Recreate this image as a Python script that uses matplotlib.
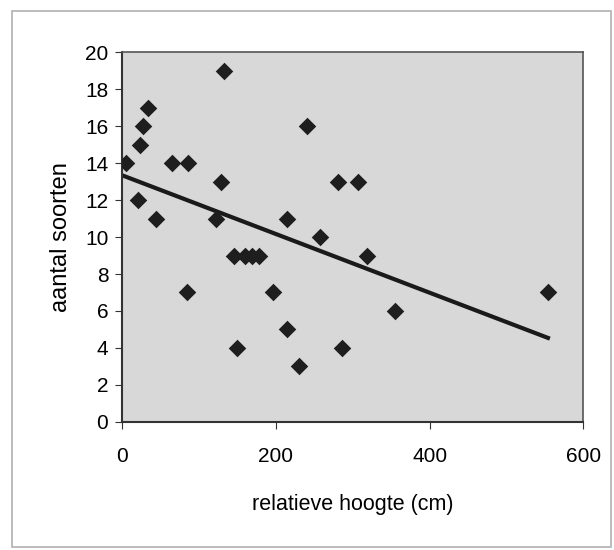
import numpy as np
import matplotlib.pyplot as plt
from matplotlib.patches import Rectangle

plt.rcParams['font.family'] = ['Liberation Sans', 'DejaVu Sans']

# relatieve hoogte (cm) vs aantal soorten
hoogte = [5, 20, 23, 27, 34, 44, 65, 86, 84, 122, 129, 133, 146, 160, 169, 178,
          149, 196, 215, 215, 230, 241, 257, 281, 286, 307, 319, 355, 554]
soorten = [14, 12, 15, 16, 17, 11, 14, 14, 7, 11, 13, 19, 9, 9, 9, 9,
           4, 7, 11, 5, 3, 16, 10, 13, 4, 13, 9, 6, 7]

x = np.array(hoogte)
y = np.array(soorten)
slope, intercept = np.polyfit(x, y, 1)
x_line = np.array([0, x.max()])

fig = plt.figure(figsize=(6.14, 5.5), dpi=100)
fig.patch.set_facecolor('white')
fig.patches.append(Rectangle((0.02, 0.005), 0.975, 0.975, transform=fig.transFigure,
                             fill=False, edgecolor='#b0b0b0', linewidth=1.2))

ax = fig.add_axes([0.199, 0.233, 0.751, 0.672])
ax.set_facecolor('#d8d8d8')
ax.scatter(x, y, marker='D', s=80, color='#1e1e1e', zorder=3, linewidths=0)
ax.plot(x_line, intercept + slope * x_line, color='#1a1a1a', linewidth=3, zorder=2)

ax.set_xlim(0, 600)
ax.set_ylim(0, 20)
ax.set_xticks([0, 200, 400, 600])
ax.set_yticks(range(0, 21, 2))
ax.tick_params(labelsize=15, direction='out', length=5, color='#333333', pad=5)
ax.tick_params(axis='x', pad=13)
for side in ['left', 'bottom']:
    ax.spines[side].set_color('#333333')
    ax.spines[side].set_linewidth(1.5)
for side in ['top', 'right']:
    ax.spines[side].set_color('#555555')
    ax.spines[side].set_linewidth(1.2)

ax.set_xlabel('relatieve hoogte (cm)', fontsize=15.5, labelpad=20)
ax.set_ylabel('aantal soorten', fontsize=17, labelpad=9)

fig.savefig('out.png', dpi=100)
